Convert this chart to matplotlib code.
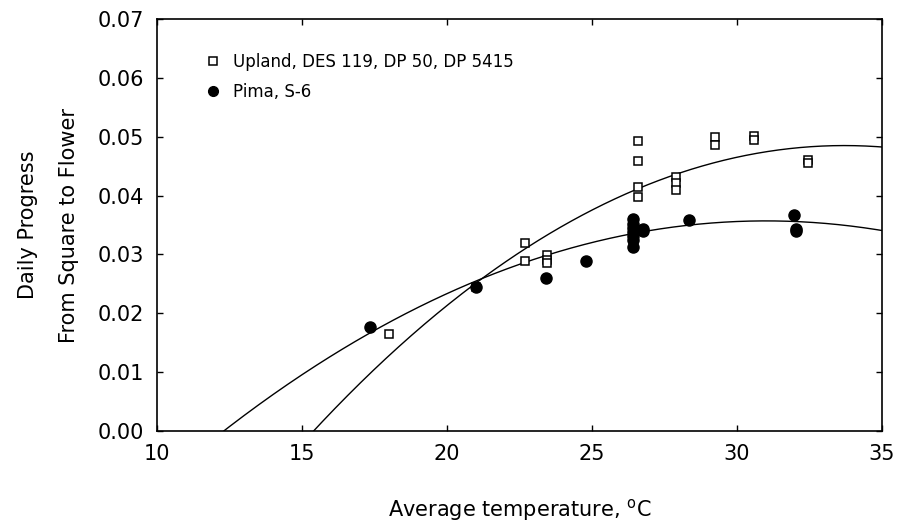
import numpy as np
import matplotlib
matplotlib.use("Agg")
import matplotlib.pyplot as plt
from matplotlib.lines import Line2D

# Upland (DES 119, DP 50, DP 5415): temperatura media vs progreso diario
upland_x = [18.0, 21.0, 22.7, 22.7, 23.45, 23.45, 23.45,
            26.6, 26.6, 26.6, 26.6, 27.9, 27.9, 27.9,
            29.25, 29.25, 30.6, 30.6, 32.45, 32.45]
upland_y = [0.0165, 0.0245, 0.0319, 0.0289, 0.0299, 0.0290, 0.0285,
            0.0493, 0.0459, 0.0415, 0.0397, 0.0431, 0.0421, 0.0409,
            0.0500, 0.0486, 0.0501, 0.0494, 0.0461, 0.0455]

# Pima S-6
pima_x = [17.35, 21.0, 23.4, 24.8, 26.4, 26.4, 26.4, 26.4, 26.4, 26.4, 26.4,
          26.75, 26.75, 28.35, 31.97, 32.05, 32.05]
pima_y = [0.0176, 0.0244, 0.0260, 0.0289, 0.0360, 0.0352, 0.0345, 0.0338,
          0.0332, 0.0325, 0.0313, 0.0344, 0.0339, 0.0359, 0.0367, 0.0344, 0.0340]

# curvas cuadraticas ajustadas (a*x^2 + b*x + c)
upland_coef = [-1.448e-4, 0.0097595, -0.11595]
pima_coef = [-1.021e-4, 0.0063302, -0.06242]

plt.rcParams['font.family'] = ['DejaVu Sans']

fig = plt.figure(figsize=(8.98, 5.22), dpi=100)
ax = fig.add_axes([0.1748, 0.1743, 0.8074, 0.7893])

xs = np.linspace(10, 35, 400)
ax.plot(xs, np.polyval(upland_coef, xs), color='black', lw=1.0)
ax.plot(xs, np.polyval(pima_coef, xs), color='black', lw=1.0)

ax.plot(upland_x, upland_y, ls='none', marker='s', ms=6, mfc='white',
        mec='black', mew=1.1)
ax.plot(pima_x, pima_y, ls='none', marker='o', ms=8, mfc='black',
        mec='black')

ax.set_xlim(10, 35)
ax.set_ylim(0, 0.07)
ax.set_xticks([10, 15, 20, 25, 30, 35])
ax.set_yticks(np.arange(0, 0.071, 0.01))
ax.yaxis.set_major_formatter(matplotlib.ticker.FormatStrFormatter('%.2f'))
ax.tick_params(direction='in', length=4, width=1, top=True, right=True,
               labelsize=15, pad=9)
for s in ax.spines.values():
    s.set_linewidth(1.2)

ax.set_xlabel('Average temperature, $^{\\mathrm{o}}$C', fontsize=15, labelpad=24)
ax.set_ylabel('Daily Progress\nFrom Square to Flower', fontsize=15,
              labelpad=14, linespacing=2.3)

handles = [Line2D([], [], ls='none', marker='s', ms=6, mfc='white', mec='black', mew=1.1),
           Line2D([], [], ls='none', marker='o', ms=7, mfc='black', mec='black')]
ax.legend(handles, ['Upland, DES 119, DP 50, DP 5415', 'Pima, S-6'],
          loc='upper left', bbox_to_anchor=(0.045, 0.955), frameon=False,
          fontsize=12, handlelength=1.0, handletextpad=0.7, labelspacing=0.75)

fig.savefig('out.png', dpi=100)
